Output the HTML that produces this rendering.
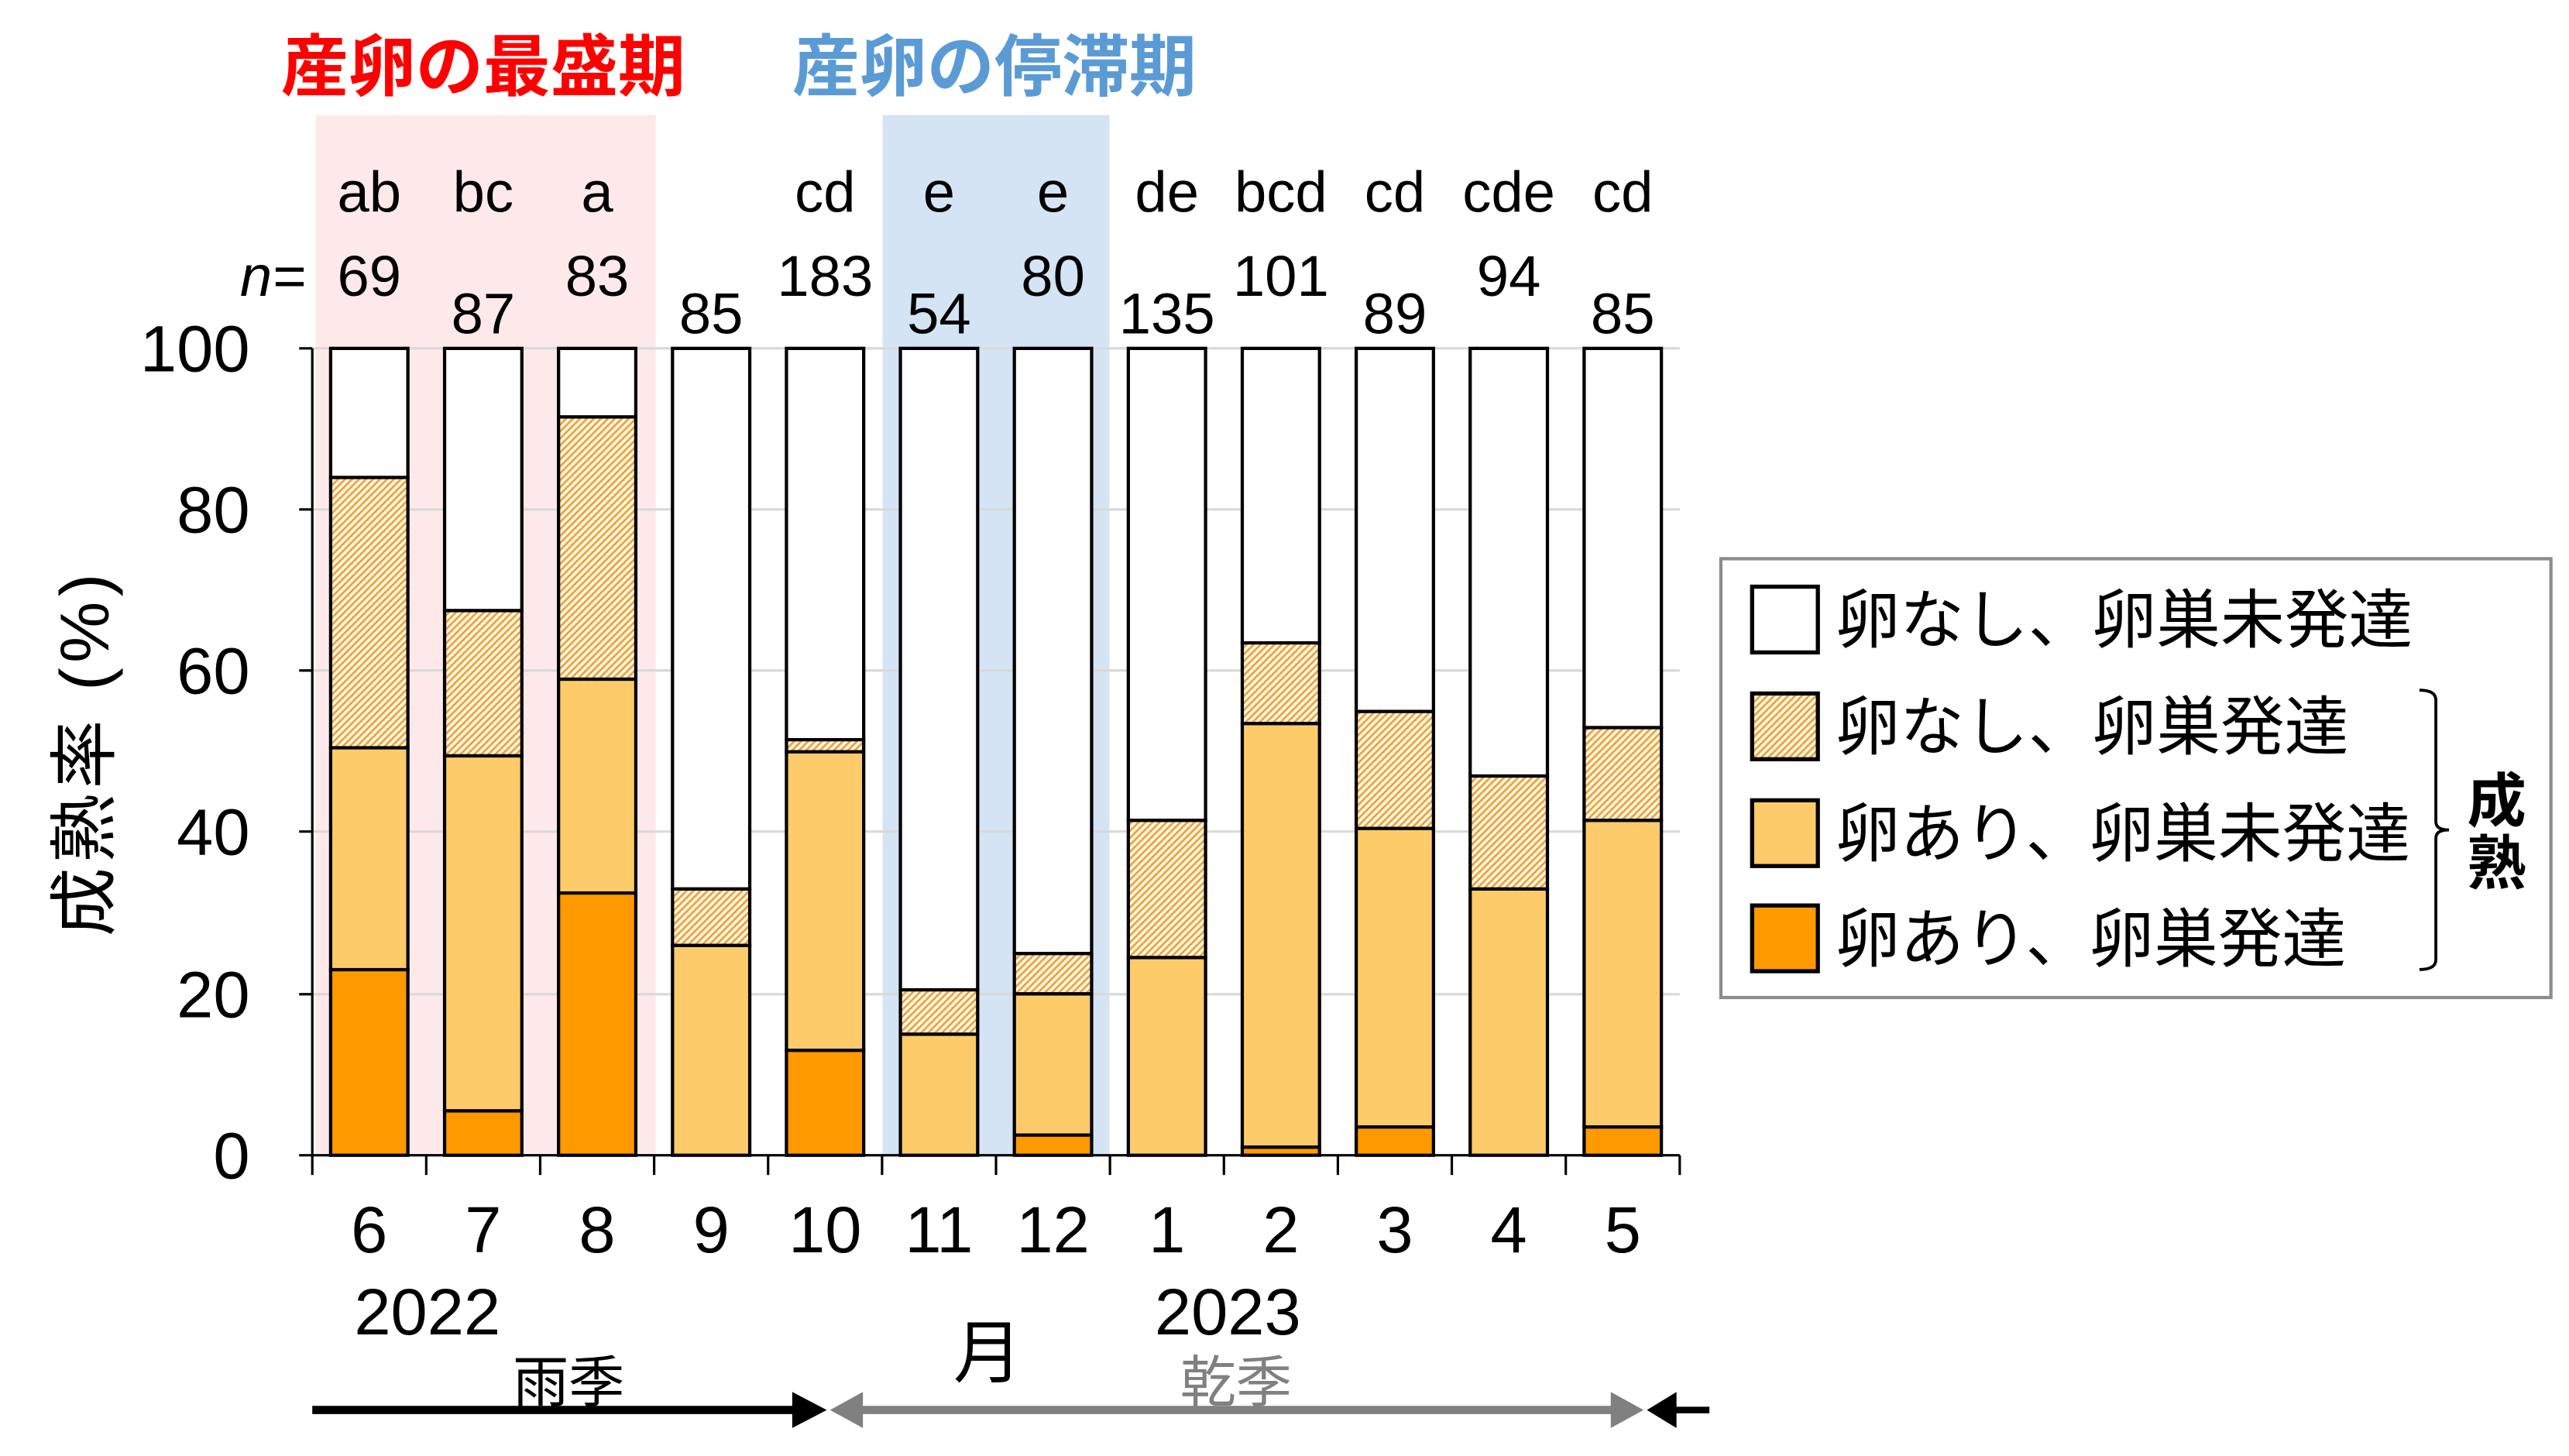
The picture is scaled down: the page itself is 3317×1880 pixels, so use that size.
<!DOCTYPE html>
<html><head><meta charset="utf-8"><style>
html,body{margin:0;padding:0;background:#fff;}
svg{display:block;}
text{font-family:"Liberation Sans","Noto Sans CJK JP",sans-serif;}
</style></head><body>
<svg width="3317" height="1880" viewBox="0 0 1563 886" preserveAspectRatio="none" xmlns="http://www.w3.org/2000/svg">
<defs>
<pattern id="h" patternUnits="userSpaceOnUse" width="3" height="3" patternTransform="rotate(45)">
<rect width="3" height="3" fill="#fff8ea"/><rect width="1.3" height="3" fill="#f0a235"/>
</pattern>
</defs>
<rect width="1563" height="886" fill="#fff"/>
<rect x="192" y="70" width="207" height="633" fill="#fde9e9"/>
<rect x="537" y="70" width="138" height="633" fill="#d4e4f4"/>
<text x="294" y="55" font-size="41" font-weight="bold" fill="#ff0000" text-anchor="middle">産卵の最盛期</text>
<text x="605" y="55" font-size="41" font-weight="bold" fill="#5b9bd5" text-anchor="middle">産卵の停滞期</text>
<g stroke="#d9d9d9" stroke-width="1.5">
<line x1="190" y1="212" x2="1022" y2="212"/><line x1="190" y1="310" x2="1022" y2="310"/>
<line x1="190" y1="408" x2="1022" y2="408"/><line x1="190" y1="506" x2="1022" y2="506"/>
<line x1="190" y1="605" x2="1022" y2="605"/>
</g>
<g id="bars" stroke="#000" stroke-width="2"></g>
<g stroke="#000" stroke-width="1.5">
<line x1="190" y1="212" x2="190" y2="703"/>
<line x1="190" y1="703" x2="1022" y2="703"/>
<line x1="182" y1="212" x2="190" y2="212"/><line x1="182" y1="310" x2="190" y2="310"/>
<line x1="182" y1="408" x2="190" y2="408"/><line x1="182" y1="506" x2="190" y2="506"/>
<line x1="182" y1="605" x2="190" y2="605"/><line x1="182" y1="703" x2="190" y2="703"/>
</g>
<g id="ticks" stroke="#000" stroke-width="1.5"></g>
<g font-size="40" text-anchor="end">
<text x="152" y="226">100</text><text x="152" y="324">80</text><text x="152" y="422">60</text>
<text x="152" y="520">40</text><text x="152" y="619">20</text><text x="152" y="717">0</text>
</g>
<text transform="translate(66,458) rotate(-90)" font-size="42" text-anchor="middle" letter-spacing="3">成熟率 (%)</text>
<g id="labels" font-size="35" text-anchor="middle"></g>
<text x="166" y="180" font-size="35" font-style="italic" text-anchor="middle">n=</text>
<text x="260" y="812" font-size="40" text-anchor="middle">2022</text>
<text x="747" y="812" font-size="40" text-anchor="middle">2023</text>
<text x="601" y="838" font-size="42" text-anchor="middle">月</text>
<text x="346" y="853" font-size="34" text-anchor="middle">雨季</text>
<text x="752" y="853" font-size="34" fill="#808080" text-anchor="middle">乾季</text>
<line x1="190" y1="858" x2="485" y2="858" stroke="#000" stroke-width="5"/>
<polygon points="482,847 503,858 482,869" fill="#000"/>
<line x1="520" y1="858" x2="985" y2="858" stroke="#808080" stroke-width="5"/>
<polygon points="525,847 505,858 525,869" fill="#808080"/>
<polygon points="980,847 1000,858 980,869" fill="#808080"/>
<polygon points="1020,847 1002,858 1020,869" fill="#000"/>
<line x1="1015" y1="858" x2="1040" y2="858" stroke="#000" stroke-width="4"/>
<rect x="1047" y="340" width="505" height="267" fill="#fff" stroke="#8c8c8c" stroke-width="2"/>
<g stroke="#000" stroke-width="2.5">
<rect x="1066" y="357" width="40" height="40" fill="#fff"/>
<rect x="1066" y="422" width="40" height="40" fill="url(#h)"/>
<rect x="1066" y="487" width="40" height="40" fill="#fecb6b"/>
<rect x="1066" y="551" width="40" height="40" fill="#fe9900"/>
</g>
<g font-size="39">
<text x="1117" y="391">卵なし、卵巣未発達</text>
<text x="1117" y="456">卵なし、卵巣発達</text>
<text x="1117" y="521">卵あり、卵巣未発達</text>
<text x="1117" y="585">卵あり、卵巣発達</text>
</g>
<path d="M1472,420 Q1482,420 1482,426 L1482,500 Q1482,505 1490,505 Q1482,505 1482,510 L1482,584 Q1482,590 1472,590" fill="none" stroke="#000" stroke-width="1.8"/>
<text x="1519" y="500" font-size="36" font-weight="bold" text-anchor="middle">成</text>
<text x="1519" y="538" font-size="36" font-weight="bold" text-anchor="middle">熟</text>
<script>
var d=[[23,50.5,84],[5.5,49.5,67.5],[32.5,59,91.5],[0,26,33],[13,50,51.5],[0,15,20.5],[2.5,20,25],[0,24.5,41.5],[1,53.5,63.5],[3.5,40.5,55],[0,33,47],[3.5,41.5,53]];
var lt=["ab","bc","a","","cd","e","e","de","bcd","cd","cde","cd"];
var ns=["69","87","83","85","183","54","80","135","101","89","94","85"];
var hi=[1,0,1,0,1,0,1,0,1,0,1,0];
var mo=["6","7","8","9","10","11","12","1","2","3","4","5"];
var NS="http://www.w3.org/2000/svg";
function Y(v){return 703-v*4.91;}
function el(p,t,a,txt){var e=document.createElementNS(NS,t);for(var k in a)e.setAttribute(k,a[k]);if(txt!==undefined)e.textContent=txt;document.getElementById(p).appendChild(e);}
var w=69.33;
for(var i=0;i<12;i++){
 var c=190+w*(i+0.5),x=c-23.5,bw=47;var v=d[i];
 el("bars","rect",{x:x,y:Y(100),width:bw,height:Y(v[2])-Y(100),fill:"#fff"});
 el("bars","rect",{x:x,y:Y(v[2]),width:bw,height:Y(v[1])-Y(v[2]),fill:"url(#h)"});
 el("bars","rect",{x:x,y:Y(v[1]),width:bw,height:Y(v[0])-Y(v[1]),fill:"#fecb6b"});
 if(v[0]>0)el("bars","rect",{x:x,y:Y(v[0]),width:bw,height:Y(0)-Y(v[0]),fill:"#fe9900"});
 el("labels","text",{x:c,y:129},lt[i]);
 el("labels","text",{x:c,y:hi[i]?180:203},ns[i]);
 el("labels","text",{x:c,y:762,"font-size":40},mo[i]);
}
for(var j=0;j<=12;j++){var tx=190+w*j;el("ticks","line",{x1:tx,y1:703,x2:tx,y2:715});}
</script>
</svg>
</body></html>
